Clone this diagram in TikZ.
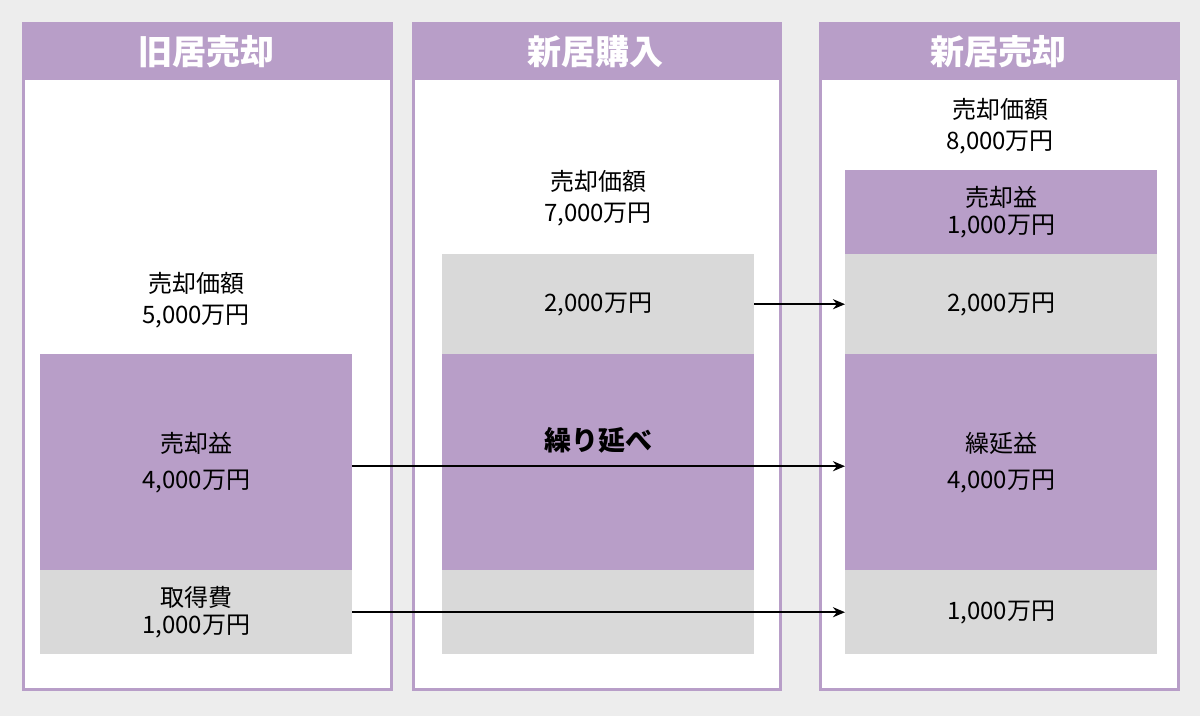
\documentclass[tikz,border=0pt]{standalone}
\usepackage{fontspec}
\setmainfont{Noto Sans CJK JP}
\usetikzlibrary{arrows.meta}
\definecolor{pur}{HTML}{B89EC8}
\definecolor{gr}{HTML}{D9D9D9}
\definecolor{bg}{HTML}{EDEDED}
\tikzset{
 panel/.style={draw=pur,line width=2.5pt,fill=white,anchor=north west,inner sep=0,minimum width=#1},
 head/.style={fill=pur,anchor=north west,inner sep=0,minimum height=58pt,minimum width=#1,text=white,font=\fontsize{34pt}{36pt}\selectfont\bfseries},
 pbox/.style={fill=pur,anchor=north west,inner sep=0,minimum width=312pt,align=center,font=\fontsize{24pt}{27pt}\selectfont},
 gbox/.style={pbox,fill=gr},
 lbl/.style={align=center,font=\fontsize{24pt}{31pt}\selectfont},
 arr/.style={-{Stealth[length=12pt,width=10pt]},line width=2.3pt}
}
\begin{document}
\begin{tikzpicture}[x=1pt,y=-1pt]
\fill[bg] (0,0) rectangle (1200,716);
% panels
\node[panel=368pt,minimum height=666pt] (p1) at (22,22) {};
\node[panel=367pt,minimum height=666pt] (p2) at (412,22) {};
\node[panel=358pt,minimum height=666pt] (p3) at (819,22) {};
\node[head=368pt] (h1) at (22,22) {旧居売却};
\node[head=367pt] (h2) at (412,22) {新居購入};
\node[head=358pt] (h3) at (819,22) {新居売却};
% panel 1
\node[lbl] (t1) at (196,300) {売却価額\\5,000万円};
\node[pbox,minimum height=216pt] (a1) at (40,354) {売却益\\[9pt]4,000万円};
\node[gbox,minimum height=84pt] (a2) at (40,570) {取得費\\1,000万円};
% panel 2
\node[lbl] (t2) at (598,198) {売却価額\\7,000万円};
\node[gbox,minimum height=100pt] (b1) at (442,254) {2,000万円};
\node[pbox,minimum height=216pt] (b2) at (442,354) {};
\node[font=\fontsize{27pt}{30pt}\selectfont\bfseries] (b2t) at (598,440) {繰り延べ};
\node[gbox,minimum height=84pt] (b3) at (442,570) {};
% panel 3
\node[lbl] (t3) at (1000,126) {売却価額\\8,000万円};
\node[pbox,minimum height=84pt] (c1) at (845,170) {売却益\\1,000万円};
\node[gbox,minimum height=100pt] (c2) at (845,254) {2,000万円};
\node[pbox,minimum height=216pt] (c3) at (845,354) {繰延益\\[9pt]4,000万円};
\node[gbox,minimum height=84pt] (c4) at (845,570) {1,000万円};
% arrows
\draw[arr] (b1.east) -- (c2.west);
\draw[arr] ([yshift=-4pt]a1.east) -- ([yshift=-4pt]c3.west);
\draw[arr] (a2.east) -- (c4.west);
\end{tikzpicture}
\end{document}
